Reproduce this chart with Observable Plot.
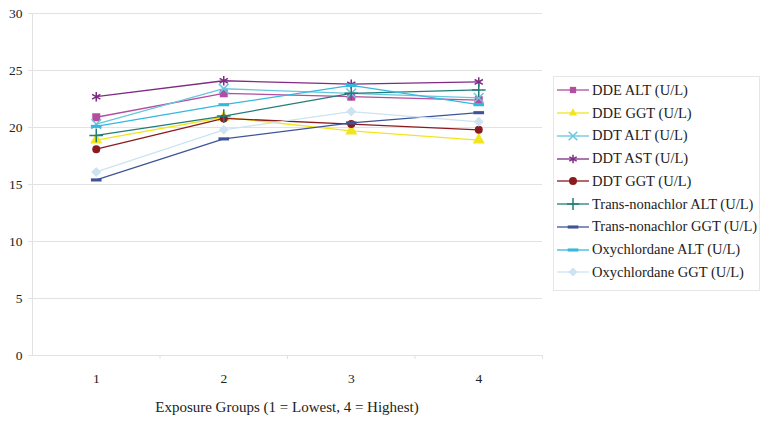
<!DOCTYPE html>
<html>
<head>
<meta charset="utf-8">
<script src="https://cdn.jsdelivr.net/npm/d3@7"></script>
<script src="https://cdn.jsdelivr.net/npm/@observablehq/plot@0.6"></script>
<style>
  html, body { margin: 0; padding: 0; background: #fff; }
  #wrap { position: relative; width: 769px; height: 425px; font-family: "Liberation Serif", "DejaVu Serif", serif; }
  #legend { position: absolute; left: 553px; top: 76px; width: 207px; height: 215px; border: 1px solid #e6e6e6; box-sizing: border-box; padding-top: 2px; }
  .row { display: flex; align-items: center; height: 22.75px; font-size: 14.5px; color: #222; white-space: nowrap; }
  .row svg { margin-left: 3px; margin-right: 3px; flex: none; }
</style>
</head>
<body>
<div id="wrap"></div>
<script>
const groups = [1, 2, 3, 4];
const seriesNames = [
  "DDE ALT (U/L)", "DDE GGT (U/L)", "DDT ALT (U/L)", "DDT AST (U/L)", "DDT GGT (U/L)",
  "Trans-nonachlor ALT (U/L)", "Trans-nonachlor GGT (U/L)", "Oxychlordane ALT (U/L)", "Oxychlordane GGT (U/L)"
];
const ddeAlt = [20.9, 23.0, 22.7, 22.4];
const ddeGgt = [18.9, 20.9, 19.7, 18.9];
const ddtAlt = [20.3, 23.4, 23.0, 22.6];
const ddtAst = [22.7, 24.1, 23.8, 24.0];
const ddtGgt = [18.1, 20.8, 20.3, 19.8];
const transAlt = [19.3, 21.0, 23.0, 23.3];
const transGgt = [15.4, 19.0, 20.4, 21.3];
const oxyAlt = [20.1, 22.0, 23.7, 22.0];
const oxyGgt = [16.1, 19.8, 21.4, 20.5];
const yTicks = [0, 5, 10, 15, 20, 25, 30];
const xLabel = "Exposure Groups (1 = Lowest, 4 = Highest)";

const seriesValues = [ddeAlt, ddeGgt, ddtAlt, ddtAst, ddtGgt, transAlt, transGgt, oxyAlt, oxyGgt];
const colors = ["#B44C9F", "#F2E51F", "#68C6DE", "#7E2C83", "#8B1A1E", "#217D77", "#3F5498", "#35B8DF", "#CDE3F2"];

const dash = { draw(ctx, size) { const w = Math.sqrt(size) * 0.75, h = Math.sqrt(size) * 0.22; ctx.rect(-w, -h, 2 * w, 2 * h); } };
const symbols = ["square", "triangle", "times", "asterisk", "circle", "plus", dash, dash, "diamond2"];

const data = [];
seriesNames.forEach((name, i) => groups.forEach((g, j) => data.push({ series: name, group: g, value: seriesValues[i][j] })));

const marks = [
  Plot.gridY(yTicks, { stroke: "#e2e2e2", strokeOpacity: 1 }),
  Plot.ruleX([0.5], { stroke: "#e2e2e2" }),
  Plot.axisY(yTicks, { tickSize: 4, stroke: "#e2e2e2", tickPadding: 6, fontSize: 13.5, fill: "#222", label: null, fontFamily: "Liberation Serif" }),
  Plot.axisX([1.5, 2.5, 3.5, 4.5], { tickSize: 4, stroke: "#e2e2e2", text: null, label: null }),
  Plot.axisX(groups, { tickSize: 0, tickPadding: 18, fontSize: 13.5, fill: "#222", label: null, tickFormat: d3.format("d"), fontFamily: "Liberation Serif" }),
  Plot.ruleY([0], { stroke: "#e2e2e2" })
];
seriesNames.forEach((name, i) => {
  const d = data.filter(r => r.series === name);
  const c = colors[i];
  marks.push(Plot.line(d, { x: "group", y: "value", stroke: c, strokeWidth: 1.3 }));
  const sym = symbols[i];
  const isStroke = sym === "times" || sym === "asterisk" || sym === "plus";
  marks.push(Plot.dot(d, {
    x: "group", y: "value", symbol: () => sym, r: sym === "circle" ? 4 : (sym === dash ? 4 : 4.5),
    fill: isStroke ? "none" : c, stroke: isStroke ? c : "none", strokeWidth: 1.5
  }));
});

const chart = Plot.plot({
  width: 769, height: 425,
  marginLeft: 32, marginRight: 227, marginTop: 13, marginBottom: 70,
  x: { type: "linear", domain: [0.5, 4.5] },
  y: { domain: [0, 30] },
  symbol: { type: "identity" },
  style: { fontFamily: "Liberation Serif", background: "#fff" },
  marks
});
const wrap = document.getElementById("wrap");
wrap.appendChild(chart);

const svg = d3.select(chart);
svg.append("text").attr("x", (32 + 542) / 2).attr("y", 412).attr("text-anchor", "middle")
  .attr("font-size", 15).attr("fill", "#222").attr("font-family", "Liberation Serif").text(xLabel);

const legend = d3.select(wrap).append("div").attr("id", "legend");
seriesNames.forEach((name, i) => {
  const row = legend.append("div").attr("class", "row");
  const s = row.append("svg").attr("width", 32).attr("height", 12);
  s.append("line").attr("x1", 0).attr("x2", 32).attr("y1", 6).attr("y2", 6).attr("stroke", colors[i]).attr("stroke-width", 1.3);
  const sym = symbols[i];
  const isStroke = sym === "times" || sym === "asterisk" || sym === "plus";
  const symType = typeof sym === "string" ? ({square: d3.symbolSquare2, triangle: d3.symbolTriangle2, times: d3.symbolTimes, asterisk: d3.symbolAsterisk, circle: d3.symbolCircle, plus: d3.symbolPlus, diamond2: d3.symbolDiamond2})[sym] : sym;
  s.append("path").attr("transform", "translate(16,6)").attr("d", d3.symbol(symType, 50)())
    .attr("fill", isStroke ? "none" : colors[i]).attr("stroke", isStroke ? colors[i] : "none").attr("stroke-width", 1.5);
  row.append("span").text(name);
});
</script>
</body>
</html>
